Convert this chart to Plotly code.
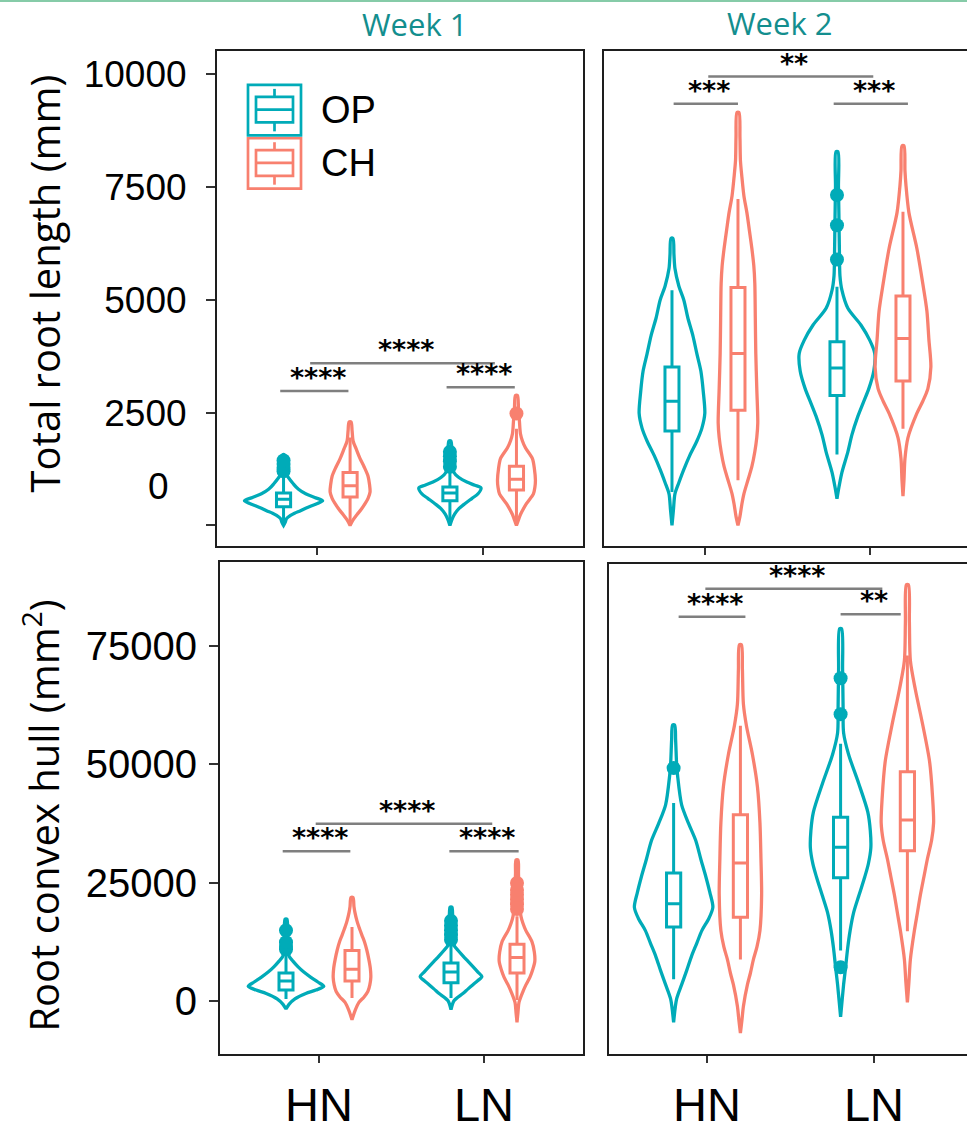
import plotly.graph_objects as go

W, H = 967, 1131
TEAL = "#00ABB8"
SALMON = "#F8806F"
AXIS_COLOR = "#1e1e1e"

CATEGORIES = ["HN", "LN"]
GROUPS = ["OP", "CH"]
WEEKS = ["Week 1", "Week 2"]
TRAIT_TITLES = ["Total root length (mm)", "Root convex hull (mm<sup>2</sup>)"]

TRL_TICKS = [0, 2500, 5000, 7500, 10000]
TRL_TICK_LABELS = ["0", "2500", "5000", "7500", "10000"]
HULL_TICKS = [0, 25000, 50000, 75000]
HULL_TICK_LABELS = ["0", "25000", "50000", "75000"]

# ---------------- Violin profiles (value, half-width in category units) -------------
# Total root length, week 1
TRL_W1_HN_OP_Y = [1560, 1300, 1130, 915, 800, 700, 620, 545, 480, 435, 380, 325, 270, 220, 150, 60, 0]
TRL_W1_HN_OP_W = [0.006, 0.012, 0.018, 0.06, 0.09, 0.133, 0.187, 0.235, 0.2, 0.169, 0.133, 0.102, 0.066, 0.042, 0.018, 0.009, 0]
TRL_W1_HN_CH_Y = [2290, 2100, 1870, 1700, 1480, 1300, 1090, 900, 740, 600, 480, 350, 240, 120, 0]
TRL_W1_HN_CH_W = [0.006, 0.012, 0.018, 0.036, 0.06, 0.084, 0.108, 0.117, 0.12, 0.108, 0.09, 0.066, 0.042, 0.018, 0]
TRL_W1_LN_OP_Y = [1870, 1600, 1400, 1175, 1060, 960, 890, 830, 700, 600, 480, 370, 260, 130, 0]
TRL_W1_LN_OP_W = [0.006, 0.012, 0.018, 0.024, 0.054, 0.102, 0.15, 0.187, 0.169, 0.133, 0.09, 0.054, 0.03, 0.012, 0]
TRL_W1_LN_CH_Y = [2880, 2600, 2300, 2030, 1870, 1720, 1480, 1250, 1000, 850, 700, 480, 240, 120, 0]
TRL_W1_LN_CH_W = [0.006, 0.012, 0.018, 0.024, 0.036, 0.054, 0.096, 0.108, 0.114, 0.111, 0.102, 0.06, 0.024, 0.012, 0]
# Total root length, week 2
TRL_W2_HN_OP_Y = [6360, 6000, 5690, 5300, 4990, 4600, 4200, 3800, 3420, 2950, 2480, 2150, 1870, 1550, 1240, 950, 700, 350, 0]
TRL_W2_HN_OP_W = [0.006, 0.012, 0.018, 0.042, 0.072, 0.096, 0.127, 0.151, 0.175, 0.19, 0.199, 0.181, 0.151, 0.108, 0.072, 0.042, 0.018, 0.009, 0]
TRL_W2_HN_CH_Y = [9150, 8600, 8080, 7710, 7300, 6930, 6540, 6140, 5750, 5360, 4600, 3810, 3030, 2270, 1950, 1630, 1300, 1000, 700, 480, 200, 0]
TRL_W2_HN_CH_W = [0.006, 0.012, 0.015, 0.024, 0.036, 0.054, 0.069, 0.084, 0.096, 0.102, 0.105, 0.108, 0.114, 0.12, 0.114, 0.102, 0.084, 0.06, 0.036, 0.024, 0.012, 0]
TRL_W2_LN_OP_Y = [8280, 7500, 6800, 6000, 5530, 5210, 4810, 4440, 4100, 3810, 3420, 3030, 2700, 2420, 2000, 1630, 1175, 850, 590]
TRL_W2_LN_OP_W = [0.006, 0.009, 0.012, 0.015, 0.018, 0.03, 0.066, 0.145, 0.199, 0.229, 0.223, 0.193, 0.157, 0.127, 0.09, 0.066, 0.03, 0.012, 0]
TRL_W2_LN_CH_Y = [8410, 7860, 7540, 6930, 6140, 5360, 4750, 4120, 3510, 3030, 2750, 2480, 1940, 1480, 1000, 650]
TRL_W2_LN_CH_W = [0.006, 0.012, 0.018, 0.036, 0.084, 0.12, 0.145, 0.157, 0.169, 0.151, 0.12, 0.084, 0.03, 0.012, 0.006, 0]
# Root convex hull, week 1
HULL_W1_HN_OP_Y = [17350, 14000, 11500, 9620, 8500, 7350, 6200, 5080, 4100, 3190, 2400, 1670, 520, -625, -1600]
HULL_W1_HN_OP_W = [0.006, 0.009, 0.012, 0.018, 0.042, 0.072, 0.108, 0.151, 0.193, 0.229, 0.181, 0.12, 0.054, 0.018, 0]
HULL_W1_HN_CH_Y = [21910, 20000, 18750, 17000, 15690, 14000, 12660, 10800, 8870, 7000, 5080, 3500, 2080, 900, -210, -2000, -3870]
HULL_W1_HN_CH_W = [0.006, 0.012, 0.018, 0.03, 0.042, 0.06, 0.075, 0.09, 0.102, 0.111, 0.114, 0.108, 0.096, 0.072, 0.042, 0.018, 0]
HULL_W1_LN_OP_Y = [19870, 16000, 13500, 11900, 10800, 9620, 8500, 7350, 6200, 5230, 4400, 3540, 2600, 1670, 150, -1750]
HULL_W1_LN_OP_W = [0.006, 0.009, 0.012, 0.018, 0.042, 0.072, 0.102, 0.133, 0.163, 0.187, 0.163, 0.133, 0.102, 0.072, 0.018, 0]
HULL_W1_LN_CH_Y = [29870, 27000, 24000, 20500, 17980, 16500, 14940, 12660, 10410, 8480, 6800, 5080, 3500, 2080, -210, -2300, -4420]
HULL_W1_LN_CH_W = [0.006, 0.009, 0.012, 0.018, 0.024, 0.036, 0.054, 0.09, 0.105, 0.108, 0.096, 0.078, 0.054, 0.036, 0.012, 0.006, 0]
# Root convex hull, week 2
HULL_W2_HN_OP_Y = [58320, 55140, 50000, 47560, 41480, 37500, 33890, 30000, 26310, 23000, 19870, 17500, 14940, 12300, 9620, 6500, 3540, 520, -4420]
HULL_W2_HN_OP_W = [0.006, 0.012, 0.018, 0.024, 0.048, 0.09, 0.133, 0.163, 0.193, 0.217, 0.235, 0.211, 0.169, 0.139, 0.108, 0.078, 0.048, 0.018, 0]
HULL_W2_HN_CH_Y = [75240, 70000, 62700, 58160, 52100, 45270, 37680, 30100, 22500, 14940, 11500, 8870, 6000, 3540, -1000, -4000, -6670]
HULL_W2_HN_CH_W = [0.006, 0.012, 0.018, 0.036, 0.072, 0.102, 0.117, 0.123, 0.127, 0.117, 0.099, 0.078, 0.06, 0.042, 0.018, 0.009, 0]
HULL_W2_LN_OP_Y = [78640, 70000, 62000, 56660, 52100, 46030, 39950, 36000, 32370, 29000, 26310, 22500, 18730, 14940, 11140, 7200, 3540, -3270]
HULL_W2_LN_OP_W = [0.006, 0.012, 0.015, 0.018, 0.048, 0.108, 0.163, 0.178, 0.181, 0.166, 0.145, 0.111, 0.078, 0.057, 0.042, 0.03, 0.018, 0]
HULL_W2_LN_CH_Y = [87900, 80000, 71860, 65740, 58160, 50580, 42990, 37680, 34000, 30100, 26300, 22500, 18700, 14940, 8870, 4000, -210]
HULL_W2_LN_CH_W = [0.006, 0.012, 0.018, 0.048, 0.093, 0.133, 0.151, 0.157, 0.145, 0.12, 0.099, 0.078, 0.06, 0.042, 0.018, 0.009, 0]

# ---------------- Box statistics: [lower whisker, Q1, median, Q3, upper whisker] ----
TRL_W1_HN_OP_BOX = [50, 415, 580, 720, 1150]
TRL_W1_HN_CH_BOX = [60, 630, 880, 1170, 1950]
TRL_W1_LN_OP_BOX = [90, 545, 720, 850, 1175]
TRL_W1_LN_CH_BOX = [90, 785, 1025, 1310, 2140]
TRL_W2_HN_OP_BOX = [740, 2090, 2750, 3510, 5210]
TRL_W2_HN_CH_BOX = [1000, 2550, 3810, 5270, 7230]
TRL_W2_LN_OP_BOX = [1570, 2880, 3490, 4070, 5290]
TRL_W2_LN_CH_BOX = [2140, 3200, 4140, 5080, 6950]
HULL_W1_HN_OP_BOX = [520, 2420, 4310, 5980, 9620]
HULL_W1_HN_CH_BOX = [710, 4310, 6810, 10770, 15690]
HULL_W1_LN_OP_BOX = [710, 3960, 6210, 8120, 11900]
HULL_W1_LN_CH_BOX = [300, 5980, 9250, 12060, 17980]
HULL_W2_HN_OP_BOX = [4690, 15690, 20620, 27080, 41870]
HULL_W2_HN_CH_BOX = [8870, 17750, 29190, 39370, 58160]
HULL_W2_LN_OP_BOX = [10770, 26080, 32540, 38830, 54370]
HULL_W2_LN_CH_BOX = [14790, 31770, 38290, 48450, 72950]

# ---------------- Outliers ----------------
TRL_W1_HN_OP_OUT = [1200, 1280, 1360, 1440]
TRL_W1_HN_CH_OUT = []
TRL_W1_LN_OP_OUT = [1300, 1420, 1530, 1630]
TRL_W1_LN_CH_OUT = [2480]
TRL_W2_HN_OP_OUT = []
TRL_W2_HN_CH_OUT = []
TRL_W2_LN_OP_OUT = [5890, 6650, 7320]
TRL_W2_LN_CH_OUT = []
HULL_W1_HN_OP_OUT = [11000, 11700, 12500, 15000]
HULL_W1_HN_CH_OUT = []
HULL_W1_LN_OP_OUT = [13000, 14000, 15000, 16000, 17000]
HULL_W1_LN_CH_OUT = [19500, 20500, 21500, 22500, 23500, 25000]
HULL_W2_HN_OP_OUT = [49220]
HULL_W2_HN_CH_OUT = []
HULL_W2_LN_OP_OUT = [7210, 60600, 68180]
HULL_W2_LN_CH_OUT = []

# ---------------- Significance labels: (x start, x end, y, label) -----------------
TRL_W1_SIG = [(0.78, 1.19, 2980, "****"), (1.78, 2.19, 3060, "****"), (0.96, 2.07, 3590, "****")]
TRL_W2_SIG = [(0.81, 1.20, 9340, "***"), (1.78, 2.23, 9340, "***"), (1.02, 2.02, 9945, "**")]
HULL_W1_SIG = [(0.78, 1.19, 31670, "****"), (1.79, 2.21, 31670, "****"), (0.98, 2.05, 37500, "****")]
HULL_W2_SIG = [(0.83, 1.23, 81170, "****"), (1.80, 2.16, 81670, "**"), (0.99, 2.05, 87080, "****")]

DATA = {
    ("TRL", 1): dict(HN_OP=(TRL_W1_HN_OP_Y, TRL_W1_HN_OP_W, TRL_W1_HN_OP_BOX, TRL_W1_HN_OP_OUT),
                     HN_CH=(TRL_W1_HN_CH_Y, TRL_W1_HN_CH_W, TRL_W1_HN_CH_BOX, TRL_W1_HN_CH_OUT),
                     LN_OP=(TRL_W1_LN_OP_Y, TRL_W1_LN_OP_W, TRL_W1_LN_OP_BOX, TRL_W1_LN_OP_OUT),
                     LN_CH=(TRL_W1_LN_CH_Y, TRL_W1_LN_CH_W, TRL_W1_LN_CH_BOX, TRL_W1_LN_CH_OUT)),
    ("TRL", 2): dict(HN_OP=(TRL_W2_HN_OP_Y, TRL_W2_HN_OP_W, TRL_W2_HN_OP_BOX, TRL_W2_HN_OP_OUT),
                     HN_CH=(TRL_W2_HN_CH_Y, TRL_W2_HN_CH_W, TRL_W2_HN_CH_BOX, TRL_W2_HN_CH_OUT),
                     LN_OP=(TRL_W2_LN_OP_Y, TRL_W2_LN_OP_W, TRL_W2_LN_OP_BOX, TRL_W2_LN_OP_OUT),
                     LN_CH=(TRL_W2_LN_CH_Y, TRL_W2_LN_CH_W, TRL_W2_LN_CH_BOX, TRL_W2_LN_CH_OUT)),
    ("HULL", 1): dict(HN_OP=(HULL_W1_HN_OP_Y, HULL_W1_HN_OP_W, HULL_W1_HN_OP_BOX, HULL_W1_HN_OP_OUT),
                      HN_CH=(HULL_W1_HN_CH_Y, HULL_W1_HN_CH_W, HULL_W1_HN_CH_BOX, HULL_W1_HN_CH_OUT),
                      LN_OP=(HULL_W1_LN_OP_Y, HULL_W1_LN_OP_W, HULL_W1_LN_OP_BOX, HULL_W1_LN_OP_OUT),
                      LN_CH=(HULL_W1_LN_CH_Y, HULL_W1_LN_CH_W, HULL_W1_LN_CH_BOX, HULL_W1_LN_CH_OUT)),
    ("HULL", 2): dict(HN_OP=(HULL_W2_HN_OP_Y, HULL_W2_HN_OP_W, HULL_W2_HN_OP_BOX, HULL_W2_HN_OP_OUT),
                      HN_CH=(HULL_W2_HN_CH_Y, HULL_W2_HN_CH_W, HULL_W2_HN_CH_BOX, HULL_W2_HN_CH_OUT),
                      LN_OP=(HULL_W2_LN_OP_Y, HULL_W2_LN_OP_W, HULL_W2_LN_OP_BOX, HULL_W2_LN_OP_OUT),
                      LN_CH=(HULL_W2_LN_CH_Y, HULL_W2_LN_CH_W, HULL_W2_LN_CH_BOX, HULL_W2_LN_CH_OUT)),
}
SIGS = {("TRL", 1): TRL_W1_SIG, ("TRL", 2): TRL_W2_SIG, ("HULL", 1): HULL_W1_SIG, ("HULL", 2): HULL_W2_SIG}

# ---------------- Layout geometry (pixels) ----------------
def fx(px):
    return px / W

def fy(py):
    return 1 - py / H

PANELS = {
    ("TRL", 1): dict(ax="", xd=(217, 583), yd=(52, 553), xr=(0.4, 2.6), yr=(-460, 10503)),
    ("TRL", 2): dict(ax="2", xd=(604, 967), yd=(52, 553), xr=(0.388, 2.588), yr=(-460, 10503)),
    ("HULL", 1): dict(ax="3", xd=(220, 583), yd=(569, 1067), xr=(0.4, 2.6), yr=(-11042, 92708)),
    ("HULL", 2): dict(ax="4", xd=(609, 967), yd=(571, 1067), xr=(0.413, 2.557), yr=(-11042, 92290)),
}
GROUP_OFFSET = {"OP": -0.2, "CH": 0.2}
GROUP_COLOR = {"OP": TEAL, "CH": SALMON}

fig = go.Figure()
shapes = []
annotations = []

for key, panel in PANELS.items():
    ax = panel["ax"]
    xref, yref = "x" + ax, "y" + ax
    for ci, cat in enumerate(CATEGORIES):
        for g in GROUPS:
            ys, ws, box, outs = DATA[key][cat + "_" + g]
            c = (ci + 1) + GROUP_OFFSET[g]
            col = GROUP_COLOR[g]
            xs = [c + w for w in ws] + [c - w for w in reversed(ws)] + [c + ws[0]]
            yy = list(ys) + list(reversed(ys)) + [ys[0]]
            fig.add_trace(go.Scatter(x=xs, y=yy, mode="lines", xaxis=xref, yaxis=yref,
                                     line=dict(color=col, width=3.3, shape="spline", smoothing=0.8),
                                     hoverinfo="skip", showlegend=False))
            fig.add_trace(go.Box(x=[c], lowerfence=[box[0]], q1=[box[1]], median=[box[2]],
                                 q3=[box[3]], upperfence=[box[4]], width=0.085, whiskerwidth=0,
                                 line=dict(color=col, width=3), fillcolor="white",
                                 boxpoints=False, xaxis=xref, yaxis=yref, showlegend=False,
                                 name=g))
            if outs:
                fig.add_trace(go.Scatter(x=[c] * len(outs), y=outs, mode="markers",
                                         xaxis=xref, yaxis=yref,
                                         marker=dict(color=col, size=14), showlegend=False))
    for (x0, x1, yv, lab) in SIGS[key]:
        shapes.append(dict(type="line", xref=xref, yref=yref, x0=x0, x1=x1, y0=yv, y1=yv,
                           line=dict(color="#7f7f7f", width=2.5)))
        annotations.append(dict(xref=xref, yref=yref, x=(x0 + x1) / 2 + 0.02, y=yv, text=lab,
                                showarrow=False, yanchor="bottom", yshift=-4,
                                font=dict(family="DejaVu Sans", size=27, color="black",
                                          weight="bold")))

TICK_FONT = "Liberation Sans, Arial"
layout_axes = {}
for key, panel in PANELS.items():
    trait, week = key
    ax = panel["ax"]
    left = week == 1
    xname = "xaxis" + ax
    yname = "yaxis" + ax
    layout_axes[xname] = dict(
        domain=[fx(panel["xd"][0]), fx(panel["xd"][1])], range=list(panel["xr"]),
        anchor="y" + ax, showgrid=False, zeroline=False,
        showline=True, linecolor=AXIS_COLOR, linewidth=2, mirror=True,
        ticks="outside", ticklen=7, tickwidth=2, tickcolor="#333",
        tickvals=[1, 2], ticktext=CATEGORIES, showticklabels=(trait == "HULL"),
        tickfont=dict(family=TICK_FONT, size=47, color="black"),
        ticklabelstandoff=2,
    )
    if left:
        if trait == "TRL":
            # the "0" label is drawn displaced (see annotation below); keep its tick mark
            tv = TRL_TICKS[1:]
            tt = TRL_TICK_LABELS[1:]
            minor = dict(tickmode="array", tickvals=[TRL_TICKS[0]], ticks="outside",
                         ticklen=9, tickwidth=2, tickcolor="#333", showgrid=False)
        else:
            tv = HULL_TICKS
            tt = HULL_TICK_LABELS
            minor = None
        yd = dict(
            domain=[fy(panel["yd"][1]), fy(panel["yd"][0])], range=list(panel["yr"]),
            anchor="x" + ax, showgrid=False, zeroline=False,
            showline=True, linecolor=AXIS_COLOR, linewidth=2, mirror=True,
            ticks="outside", ticklen=9, tickwidth=2, tickcolor="#333",
            tickmode="array", tickvals=tv, ticktext=tt,
            tickfont=dict(family=TICK_FONT, size=37 if trait == "TRL" else 40, color="black"),
            ticklabelstandoff=12 if trait == "TRL" else 4,
        )
        if minor:
            yd["minor"] = minor
        layout_axes[yname] = yd
    else:
        layout_axes[yname] = dict(
            domain=[fy(panel["yd"][1]), fy(panel["yd"][0])], range=list(panel["yr"]),
            anchor="x" + ax, showgrid=False, zeroline=False,
            showline=True, linecolor=AXIS_COLOR, linewidth=2, mirror=False,
            ticks="", showticklabels=False,
        )

# displaced "0" label of the top-left axis, as in the reference
annotations.append(dict(xref="paper", yref="paper", x=fx(158), y=fy(493), text=TRL_TICK_LABELS[0],
                        showarrow=False, xanchor="center", yanchor="middle",
                        font=dict(family=TICK_FONT, size=37, color="black")))

# axis titles
annotations.append(dict(xref="paper", yref="paper", x=fx(44), y=fy(287), text=TRAIT_TITLES[0],
                        textangle=-90, showarrow=False, xanchor="center", yanchor="middle",
                        font=dict(family="Open Sans", size=40, color="black")))
annotations.append(dict(xref="paper", yref="paper", x=fx(42), y=fy(826), text=TRAIT_TITLES[1],
                        textangle=-90, showarrow=False, xanchor="center", yanchor="middle",
                        font=dict(family="Open Sans", size=40, color="black")))

# week headers
annotations.append(dict(xref="paper", yref="paper", x=fx(415), y=fy(24), text=WEEKS[0],
                        showarrow=False, xanchor="center", yanchor="middle",
                        font=dict(family="Open Sans", size=31, color="#138E8E")))
annotations.append(dict(xref="paper", yref="paper", x=fx(780), y=fy(23), text=WEEKS[1],
                        showarrow=False, xanchor="center", yanchor="middle",
                        font=dict(family="Open Sans", size=31, color="#138E8E")))

# top slide rule
shapes.append(dict(type="line", xref="paper", yref="paper", x0=0, x1=1, y0=fy(1), y1=fy(1),
                   line=dict(color="#86CBA8", width=2)))

# custom legend (boxplot keys)
for i, g in enumerate(GROUPS):
    col = GROUP_COLOR[g]
    top = 86 + i * 54
    shapes.append(dict(type="rect", xref="paper", yref="paper", x0=fx(248), x1=fx(301),
                       y0=fy(top + 51), y1=fy(top), line=dict(color=col, width=2.7)))
    shapes.append(dict(type="rect", xref="paper", yref="paper", x0=fx(256), x1=fx(293),
                       y0=fy(top + 38), y1=fy(top + 12), line=dict(color=col, width=2.7)))
    shapes.append(dict(type="line", xref="paper", yref="paper", x0=fx(256), x1=fx(293),
                       y0=fy(top + 25), y1=fy(top + 25), line=dict(color=col, width=2.7)))
    shapes.append(dict(type="line", xref="paper", yref="paper", x0=fx(274.5), x1=fx(274.5),
                       y0=fy(top + 12), y1=fy(top + 4), line=dict(color=col, width=2.7)))
    shapes.append(dict(type="line", xref="paper", yref="paper", x0=fx(274.5), x1=fx(274.5),
                       y0=fy(top + 47), y1=fy(top + 38), line=dict(color=col, width=2.7)))
    annotations.append(dict(xref="paper", yref="paper", x=fx(319), y=fy(top + 25), text=g,
                            showarrow=False, xanchor="left", yanchor="middle",
                            font=dict(family=TICK_FONT, size=38, color="black")))

fig.update_layout(
    width=W, height=H, margin=dict(l=0, r=0, t=0, b=0),
    paper_bgcolor="white", plot_bgcolor="white",
    showlegend=False, boxmode="overlay",
    shapes=shapes, annotations=annotations,
    **layout_axes,
)

fig.write_html("out.html", config={"displayModeBar": False},
               post_script="document.body.style.margin='0px';document.body.style.padding='0px';")
